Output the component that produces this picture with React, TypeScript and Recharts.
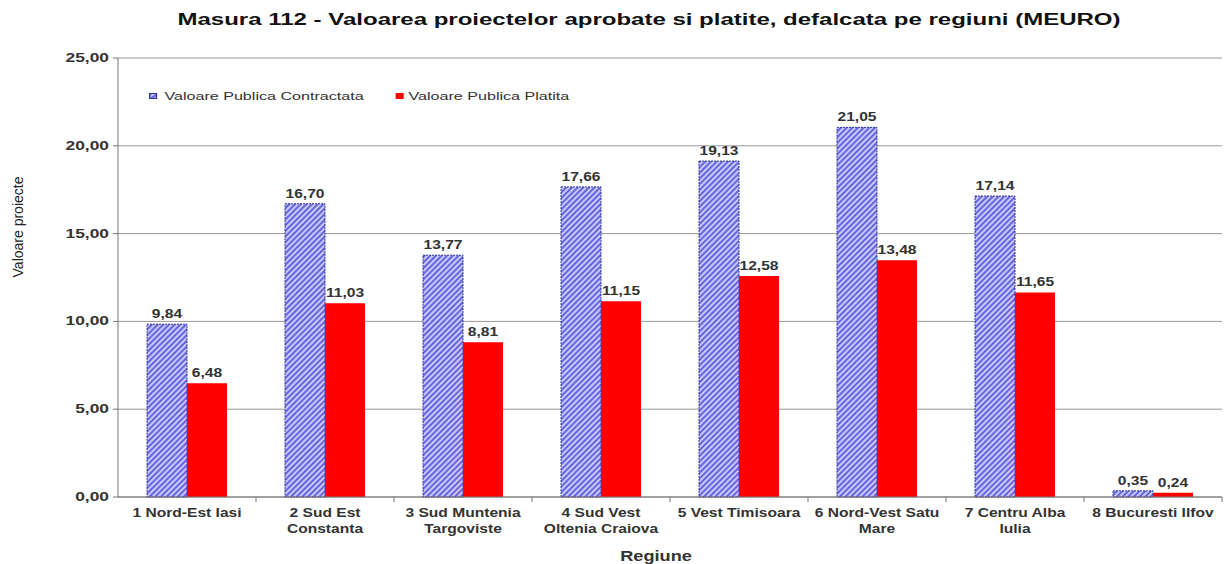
import { Bar, BarChart, CartesianGrid, Label, LabelList, XAxis, YAxis } from "recharts";

const regions = [
  ["1 Nord-Est Iasi"],
  ["2 Sud Est", "Constanta"],
  ["3 Sud Muntenia", "Targoviste"],
  ["4 Sud Vest", "Oltenia Craiova"],
  ["5 Vest Timisoara"],
  ["6 Nord-Vest Satu", "Mare"],
  ["7 Centru Alba", "Iulia"],
  ["8 Bucuresti Ilfov"],
];
const contractata = [9.84, 16.7, 13.77, 17.66, 19.13, 21.05, 17.14, 0.35];
const platita = [6.48, 11.03, 8.81, 11.15, 12.58, 13.48, 11.65, 0.24];
const yTicks = [0, 5, 10, 15, 20, 25];

const data = regions.map((lines, i) => ({
  name: lines.join(" "),
  lines,
  contractata: contractata[i],
  platita: platita[i],
}));

const W = 1224;
const H = 564;
const MARGIN = { top: 58, right: 2, bottom: 17, left: 10 };
const Y_WIDTH = 108;
const BAND = (W - MARGIN.left - MARGIN.right - Y_WIDTH) / regions.length;
const FONT = "Arial, 'Liberation Sans', Helvetica, sans-serif";
const STRETCH = 1.3;

const fmt = (v: number) => v.toFixed(2).replace(".", ",");

function RegionTick(props: any) {
  const { x, y, payload, index } = props;
  const lines = data[index]?.lines ?? [String(payload.value)];
  return (
    <g>
      <line x1={x + BAND / 2} x2={x + BAND / 2} y1={y - 8} y2={y - 3} stroke="#777" />
      <g transform={`translate(${x},${y + 12}) scale(${STRETCH},1)`}>
        <text x={0} y={0} textAnchor="middle" fontFamily={FONT} fontSize={12} fontWeight="bold" fill="#333">
          {lines.map((l: string, k: number) => (
            <tspan key={k} x={0} dy={k === 0 ? 0 : 16}>
              {l}
            </tspan>
          ))}
        </text>
      </g>
    </g>
  );
}

function ValueTick(props: any) {
  const { x, y, payload } = props;
  return (
    <g transform={`translate(${x - 2},${y + 4}) scale(1.45,1)`}>
      <text x={0} y={0} textAnchor="end" fontFamily={FONT} fontSize={12} fontWeight="bold" fill="#333">
        {fmt(Number(payload.value))}
      </text>
    </g>
  );
}

function BarValue(props: any) {
  const { x, y, width, value } = props;
  return (
    <g transform={`translate(${x + width / 2},${y - 6}) scale(${STRETCH},1)`}>
      <text x={0} y={0} textAnchor="middle" fontFamily={FONT} fontSize={12} fontWeight="bold" fill="#333">
        {fmt(Number(value))}
      </text>
    </g>
  );
}

export default function App() {
  return (
    <div style={{ position: "absolute", left: 0, top: 0, width: W, height: H, background: "#fff", fontFamily: FONT, overflow: "hidden" }}>
      <div
        style={{
          position: "absolute",
          top: 11,
          left: 649,
          whiteSpace: "nowrap",
          fontSize: 16,
          fontWeight: "bold",
          color: "#111",
          transform: "translateX(-50%) scaleX(1.5)",
        }}
      >
        Masura 112 - Valoarea proiectelor aprobate si platite, defalcata pe regiuni (MEURO)
      </div>
      <div
        style={{
          position: "absolute",
          top: 90,
          left: 149,
          whiteSpace: "nowrap",
          display: "flex",
          alignItems: "center",
          fontSize: 11.5,
          color: "#333",
          transform: "scaleX(1.4)",
          transformOrigin: "left center",
          zIndex: 2,
        }}
      >
        <svg width={6} height={6} style={{ marginRight: 5 }}>
          <rect x={0.5} y={0.5} width={5} height={5} fill="url(#hatch)" stroke="#333399" />
        </svg>
        <span style={{ marginRight: 23 }}>Valoare Publica Contractata</span>
        <svg width={6} height={6} style={{ marginRight: 3 }}>
          <rect x={0} y={0} width={6} height={6} fill="#ff0000" />
        </svg>
        <span>Valoare Publica Platita</span>
      </div>
      <BarChart width={W} height={H} data={data} margin={MARGIN} barCategoryGap={29} barGap={0}>
        <defs>
          <pattern id="hatch" patternUnits="userSpaceOnUse" width={4} height={4} patternTransform="rotate(45)">
            <rect width={4} height={4} fill="#c8c8ff" />
            <rect width={2} height={4} fill="#6666dd" />
          </pattern>
        </defs>
        <CartesianGrid vertical={false} stroke="#999" />
        <XAxis dataKey="name" tick={<RegionTick />} tickLine={false} interval={0} height={50} stroke="#777">
          <Label
            content={() => (
              <g transform="translate(656,561) scale(1.3,1)">
                <text x={0} y={0} textAnchor="middle" fontFamily={FONT} fontSize={14} fontWeight="bold" fill="#333">
                  Regiune
                </text>
              </g>
            )}
          />
        </XAxis>
        <YAxis domain={[0, 25]} ticks={yTicks} width={Y_WIDTH} stroke="#777" tickLine={{ stroke: "#777" }} tickSize={5} tick={<ValueTick />}>
          <Label
            content={() => (
              <text transform="translate(23,227) rotate(-90)" x={0} y={0} textAnchor="middle" fontFamily={FONT} fontSize={14} fill="#222">
                Valoare proiecte
              </text>
            )}
          />
        </YAxis>
        <Bar dataKey="contractata" fill="url(#hatch)" stroke="#333399" strokeWidth={1} strokeDasharray="2 1" isAnimationActive={false}>
          <LabelList dataKey="contractata" content={<BarValue />} />
        </Bar>
        <Bar dataKey="platita" fill="#ff0000" isAnimationActive={false}>
          <LabelList dataKey="platita" content={<BarValue />} />
        </Bar>
      </BarChart>
    </div>
  );
}
